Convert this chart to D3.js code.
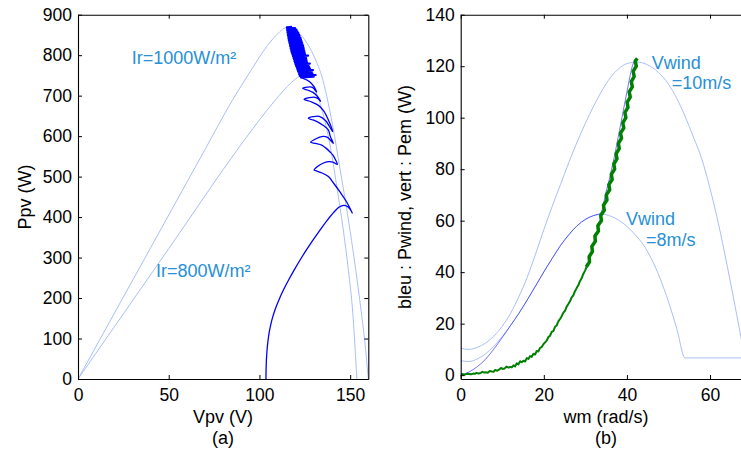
<!DOCTYPE html>
<html><head><meta charset="utf-8">
<script src="https://cdn.jsdelivr.net/npm/d3@7"></script>
<style>
body{margin:0;background:#fff}
svg{display:block}
text{font-family:"Liberation Sans",Arial,Helvetica,sans-serif;fill:#000}
</style>
</head><body>
<svg id="chart" width="741" height="450"></svg>
<script>
// ---------- Panel (a) data ----------
const pvTicksX = [0, 50, 100, 150];
const pvTicksY = [0, 100, 200, 300, 400, 500, 600, 700, 800, 900];
// P-V characteristic, Ir = 1000 W/m² : [Vpv, Ppv]
const pv1000 = [[0,0],[40,324],[70,567],[85,688],[95,760],[103,815],[109,848],[115,868],[120,861],[125,838],[130,798],[135,738],[138,680],[141,610],[144,530],[147,450],[150,365],[153,272],[156,170],[158,95],[160,0]];
// P-V characteristic, Ir = 800 W/m²
const pv800 = [[0,0],[50,322],[90,580],[100,640],[108,685],[114,716],[119,738],[123,748],[127,738],[131,710],[134,672],[137,620],[140,550],[143,465],[146,375],[149,270],[151.5,160],[153.7,0]];
// MPPT operating-point trajectory (start-up and P&O arcs)
const mpptPath = [
 [103.6,0],[103.7,30],[104,60],[104.6,90],[105.5,118],[106.8,145],[108.5,170],[110.5,193],[113,218],[116,244],[119.5,272],[123.5,302],[128,333],[132.5,362],[137,390],[141,412],[144,425],[146.5,429],[148.5,426],[150.2,418],[151.2,410],
 [148,438],[144.4,462],[141,483],[138,500],[134.5,509],[131.5,514],[130.1,516],
 [132,525],[135,533],[138,537],[140.5,536],[142.9,530],
 [140.5,553],[138.9,561],[136.5,571],[134.3,578],[131,582],[128.2,585],
 [130.5,592],[134.3,599],[137.5,597],[140.7,582],
 [139,600],[138,615],[135,627],[132.5,634],[129.5,640],[126.9,644],
 [129.5,648],[133,649],[136.5,638],[140.4,611],
 [138,640],[135.5,662],[132.5,676],[128.5,685],[124.6,691],
 [127.5,695],[130.6,696],[132.5,692],[133.7,686],
 [132,698],[129.5,708],[126.5,714],[123.8,718],
 [126.5,721],[128.8,721],[130.3,716],[131.5,709],
 [130,723],[127.5,735],[125,741],[122.5,745]
];
// MPPT trajectory continued: dense oscillation around the 1000 W/m² MPP
const mpptBlob = [
 [122.5,745],[130,747],[122.2,749],[131,751],[121.9,753],[129.2,755],[121.6,757],[128.8,759],[121.2,761],[129.5,763],[120.9,765],[127.9,767],[120.6,769],[127.4,771],[120.2,773],[127.0,775],[119.9,777],[127.8,779],[119.6,781],[126.2,783],[119.3,785],[126.0,787],[119.1,789],[125.8,791],[118.8,793],[125.6,795],[118.5,797],[126.8,799],[118.2,801],[125.1,803],[117.9,805],[124.9,807],[117.6,809],[124.7,811],[117.4,813],[124.5,815],[117.2,817],[124.3,819],[117.0,821],[124.1,823],[116.8,825],[123.8,827],[116.6,829],[123.5,831],[116.4,833],[123.2,835],[116.2,837],[122.9,839],[116.0,841],[122.6,843],[115.9,845],[122.2,847],[115.7,849],[121.8,851],[115.6,853],[121.4,855],[115.4,857],[120.9,859],[115.3,861],[120.4,863],[115.2,865],[119.6,867],[115.1,869],[118,870]
];

// ---------- Panel (b) data ----------
const windTicksX = [0, 20, 40, 60];
const windTicksY = [0, 20, 40, 60, 80, 100, 120, 140];
// Turbine power curve, Vwind = 10 m/s : [wm, P]
const wind10 = [[0,10.4],[2,10],[4,10.8],[6,12.5],[8,15.2],[10,19],[12,24],[14,30.5],[16,38],[18,47],[20,56.5],[22,65.5],[24,74],[26,82.5],[28,90.5],[30,97.8],[32,104.5],[34,110.5],[36,115.5],[38,119],[40,121],[42.5,121.6],[45,120.5],[47.5,117.7],[50,113],[52,107.5],[54,100.5],[56,92.5],[58,84],[60,72.5],[62,59],[64,43.5],[66,27],[68,10]];
// Turbine power curve, Vwind = 8 m/s
const wind8 = [[0,5.6],[2,5.3],[4,6.3],[6,8.3],[8,11.3],[10,15],[12,19.3],[14,24],[16,29.2],[18,34.6],[20,40.1],[22,45.3],[24,50.3],[26,54.5],[28,58],[30,60.5],[32,62],[34,62.5],[36,61.8],[38,60.2],[40,57.8],[42,54.5],[44,50.5],[46,44.8],[48,37.5],[50,28.5],[52,18],[54,6.7],[70,6.7]];
// Pwind (blue)
const pwind = [[0,0],[2,1.2],[4,3.3],[6,6.2],[8,10.2],[10,14.6],[12,19.3],[14,24],[16,29.2],[18,34.6],[20,40.1],[22,45.3],[24,50.3],[26,54.5],[28,58],[30,60.5],[32,62],[33.6,62.8],[34.3,66],[34.8,70],[35.6,75],[36.3,80],[37.0,85],[37.6,90],[38.2,95],[38.8,100],[39.4,105],[40.0,110],[40.6,115],[41.3,120],[42.0,122.5]];
// Pem (green, measured) - low-power noisy part
const pemLow = [[0,0.3],[0.5,0.4],[1,0.2],[1.5,0.5],[2,0.4],[2.5,0.3],[3,0.6],[3.4,0.5],[3.8,0.9],[4.3,0.6],[4.8,0.8],[5.2,1.3],[5.6,1.0],[6,1.1],[6.5,0.9],[7,1.6],[7.5,1.4],[7.9,1.3],[8.3,2.0],[8.8,1.7],[9.3,2.2],[9.7,2.8],[10.1,2.4],[10.6,2.6],[11,3.3],[11.5,2.9],[11.9,3.2],[12.3,3.0],[12.7,3.8],[13.1,3.4],[13.5,4.6],[13.9,4.2],[14.3,5.4],[14.7,5.0],[15.1,5.6],[15.5,5.3],[15.9,6.6],[16.3,6.3],[16.7,7.4],[17.1,7.1],[17.5,8.3],[17.9,8.0],[18.3,9.4],[18.7,9.2],[19.1,10.6],[19.5,10.9],[19.9,12.0],[20.3,12.7],[20.7,13.4],[21.1,14.8],[21.5,15.3],[21.9,16.8],[22.3,17.1],[22.7,18.8],[23.1,19.3],[23.5,20.9],[23.9,21.8],[24.3,22.9],[24.7,24.3],[25.1,25.0],[25.5,26.6],[25.9,27.6],[26.3,28.7],[26.7,30.2],[27.1,31.0],[27.5,32.6],[27.9,33.8],[28.3,34.9],[28.7,36.5],[29.1,37.6],[29.5,39.3],[29.9,40.5],[30.3,42.0]];
// Pem (green) - high-power noisy band
const pemHigh = [[30.2,42],[31.0,44],[30.9,46],[31.7,48],[31.55,50],[32.4,52],[32.3,54],[33.15,56],[33.0,58],[33.85,60],[33.7,62],[34.55,64],[34.35,66],[35.2,68],[35.05,70],[35.85,72],[35.65,74],[36.45,76],[36.25,78],[37.05,80],[36.85,82],[37.6,84],[37.4,86],[38.15,88],[37.95,90],[38.7,92],[38.45,94],[39.25,96],[39.0,98],[39.75,100],[39.5,102],[40.25,104],[40.05,106],[40.8,108],[40.55,110],[41.3,112],[41.05,114],[41.75,116],[41.5,118],[42.25,120],[42.0,122],[42.5,123]];

// ---------- Drawing ----------
const svg = d3.select("#chart");
const LIGHT = "#a9bff8", ANNOT = "#2790d6";
const TICK_FS = 17.5, LABEL_FS = 18;

function frame(g, x, y, tx, ty, showRight) {
  const bottom = g.append("g").attr("transform", `translate(0,${y.range()[0]})`)
    .call(d3.axisBottom(x).tickValues(tx).tickSizeInner(-4).tickSizeOuter(0).tickPadding(10));
  const top = g.append("g").attr("transform", `translate(0,${y.range()[1]})`)
    .call(d3.axisTop(x).tickValues(tx).tickSizeInner(-4).tickSizeOuter(0).tickFormat(""));
  const left = g.append("g").attr("transform", `translate(${x.range()[0]},0)`)
    .call(d3.axisLeft(y).tickValues(ty).tickSizeInner(-4).tickSizeOuter(0).tickPadding(6));
  const sel = [bottom, top, left];
  if (showRight) {
    sel.push(g.append("g").attr("transform", `translate(${x.range()[1]},0)`)
      .call(d3.axisRight(y).tickValues(ty).tickSizeInner(-4).tickSizeOuter(0).tickFormat("")));
  }
  sel.forEach(s => {
    s.selectAll("path.domain").attr("stroke", "#000").attr("stroke-width", 1.1);
    s.selectAll(".tick line").attr("stroke", "#000");
    s.selectAll("text").attr("font-size", TICK_FS).attr("fill", "#111")
      .attr("font-family", '"Liberation Sans",Arial,sans-serif');
  });
}

// Panel (a)
const xa = d3.scaleLinear().domain([0, 160]).range([78, 368.3]);
const ya = d3.scaleLinear().domain([0, 900]).range([379, 14.7]);
const ga = svg.append("g");
ga.append("clipPath").attr("id", "clipA").append("rect")
  .attr("x", 78).attr("y", 14.7).attr("width", 290.3).attr("height", 364.3);
const pa = ga.append("g").attr("clip-path", "url(#clipA)");
const lineA = d3.line().x(d => xa(d[0])).y(d => ya(d[1]));
pa.append("path").datum(pv1000).attr("d", lineA.curve(d3.curveMonotoneX))
  .attr("fill", "none").attr("stroke", LIGHT).attr("stroke-width", 1);
pa.append("path").datum(pv800).attr("d", lineA.curve(d3.curveMonotoneX))
  .attr("fill", "none").attr("stroke", LIGHT).attr("stroke-width", 1);
pa.append("path").datum(mpptPath).attr("d", lineA.curve(d3.curveCatmullRom.alpha(0.5)))
  .attr("fill", "none").attr("stroke", "#0000ff").attr("stroke-width", 1.3).attr("stroke-linejoin", "round");
pa.append("path").datum(mpptBlob).attr("d", lineA.curve(d3.curveLinear))
  .attr("fill", "none").attr("stroke", "#0000ff").attr("stroke-width", 2.2).attr("stroke-linejoin", "round");
frame(ga, xa, ya, pvTicksX, pvTicksY, true);

ga.append("text").attr("x", xa(29.6)).attr("y", ya(777)).attr("font-size", LABEL_FS)
  .style("fill", ANNOT).text("Ir=1000W/m²");
ga.append("text").attr("x", xa(43)).attr("y", ya(251)).attr("font-size", LABEL_FS)
  .style("fill", ANNOT).text("Ir=800W/m²");
ga.append("text").attr("x", 223).attr("y", 423).attr("text-anchor", "middle")
  .attr("font-size", LABEL_FS).text("Vpv (V)");
ga.append("text").attr("x", 223).attr("y", 444).attr("text-anchor", "middle")
  .attr("font-size", LABEL_FS).text("(a)");
ga.append("text").attr("transform", "translate(31,197) rotate(-90)").attr("text-anchor", "middle")
  .attr("font-size", LABEL_FS).text("Ppv (W)");

// Panel (b)
const xb = d3.scaleLinear().domain([0, 70]).range([460.7, 751.6]);
const yb = d3.scaleLinear().domain([-1.5, 140]).range([379, 14.7]);
const gb = svg.append("g");
gb.append("clipPath").attr("id", "clipB").append("rect")
  .attr("x", 460.7).attr("y", 14.7).attr("width", 290.9).attr("height", 364.3);
const pb = gb.append("g").attr("clip-path", "url(#clipB)");
const lineB = d3.line().x(d => xb(d[0])).y(d => yb(d[1]));
pb.append("path").datum(wind10).attr("d", lineB.curve(d3.curveMonotoneX))
  .attr("fill", "none").attr("stroke", LIGHT).attr("stroke-width", 1);
pb.append("path").datum(wind8).attr("d", lineB.curve(d3.curveMonotoneX))
  .attr("fill", "none").attr("stroke", LIGHT).attr("stroke-width", 1);
pb.append("path").datum(pwind).attr("d", lineB.curve(d3.curveMonotoneX))
  .attr("fill", "none").attr("stroke", "#0000ff").attr("stroke-width", 0.85).attr("stroke-opacity", 0.65);
pb.append("path").datum(pemLow).attr("d", lineB.curve(d3.curveLinear))
  .attr("fill", "none").attr("stroke", "#008000").attr("stroke-width", 2).attr("stroke-linejoin", "round");
pb.append("path").datum(pemHigh).attr("d", lineB.curve(d3.curveLinear))
  .attr("fill", "none").attr("stroke", "#008000").attr("stroke-width", 3.5).attr("stroke-linejoin", "round");
frame(gb, xb, yb, windTicksX, windTicksY, false);

gb.append("text").attr("x", xb(46)).attr("y", yb(119.1)).attr("font-size", LABEL_FS)
  .style("fill", ANNOT).text("Vwind");
gb.append("text").attr("x", xb(50.8)).attr("y", yb(111.3)).attr("font-size", LABEL_FS)
  .style("fill", ANNOT).text("=10m/s");
gb.append("text").attr("x", xb(39.8)).attr("y", yb(58.3)).attr("font-size", LABEL_FS)
  .style("fill", ANNOT).text("Vwind");
gb.append("text").attr("x", xb(44.6)).attr("y", yb(50.1)).attr("font-size", LABEL_FS)
  .style("fill", ANNOT).text("=8m/s");
gb.append("text").attr("x", 606).attr("y", 423).attr("text-anchor", "middle")
  .attr("font-size", LABEL_FS).text("wm (rad/s)");
gb.append("text").attr("x", 606).attr("y", 444).attr("text-anchor", "middle")
  .attr("font-size", LABEL_FS).text("(b)");
gb.append("text").attr("transform", "translate(411,197) rotate(-90)").attr("text-anchor", "middle")
  .attr("font-size", LABEL_FS).text("bleu : Pwind, vert : Pem (W)");
</script>
</body></html>
